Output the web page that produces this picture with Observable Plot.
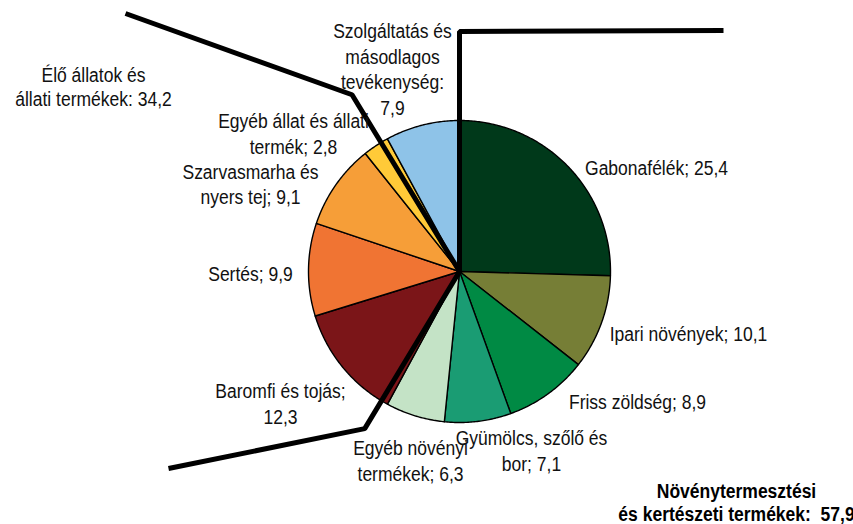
<!DOCTYPE html>
<html><head><meta charset="utf-8">
<script src="https://cdn.jsdelivr.net/npm/d3@7"></script>
<script src="https://cdn.jsdelivr.net/npm/@observablehq/plot@0.6"></script>
<style>body{margin:0;background:#fff}</style>
</head><body><div id="chart"></div>
<script>
// ---- data ----
const categories = ["Gabonafélék","Ipari növények","Friss zöldség","Gyümölcs, szőlő és bor","Egyéb növényi termékek","Baromfi és tojás","Sertés","Szarvasmarha és nyers tej","Egyéb állat és állati termék","Szolgáltatás és másodlagos tevékenység"];
const values = [25.4,10.1,8.9,7.1,6.3,12.3,9.9,9.1,2.8,7.9];
const labelText = ["Gabonafélék; 25,4","Ipari növények; 10,1","Friss zöldség; 8,9","Gyümölcs, szőlő és\nbor; 7,1","Egyéb növényi\ntermékek; 6,3","Baromfi és tojás;\n12,3","Sertés; 9,9","Szarvasmarha és\nnyers tej; 9,1","Egyéb állat és állati\ntermék; 2,8","Szolgáltatás és\nmásodlagos\ntevékenység:\n7,9"];
const groupLabels = ["Növénytermesztési\nés kertészeti termékek:  57,9","Élő állatok és\nállati termékek: 34,2"];
// boundaries between groups (index of the first slice after the boundary)
const groupBoundaries = [0, 5, 9];

// ---- style / layout ----
const colors = ["#00391a","#767e36","#008a44","#1a9c73","#c4e3c6","#7b1518","#f07433","#f69e38","#ffca38","#8ec3e8"];
const W = 853, H = 524, CX = 459, CY = 271, R = 151;
const px = x => (x - CX) / R, py = y => (CY - y) / R;
const labelPos = [[656,166],[688,332],[637,400],[531,449.5],[410,459.5],[280,402.5],[250,272],[250,183],[293,132.5],[392,68]];
const groupPos = [[736,502],[93,85.5]];
// divider legs: boundary index, angle nudge (deg), bend radius (in R), end point (px)
const dividerLayout = [
  {b:0, nudge:0, r:1.59, end:[723,30]},
  {b:5, nudge:2.6, r:1.215, end:[168,468]},
  {b:9, nudge:-2.8, r:1.37, end:[125,13]}
];
const FONT = "'Liberation Sans',Arial,sans-serif";
const SQUEEZE = 0.875; // narrow-font look

// ---- geometry via d3.pie ----
const arcs = d3.pie().sort(null).value(d => d)(values);
const slicePts = [];
arcs.forEach((a, i) => {
  const n = Math.max(2, Math.ceil((a.endAngle - a.startAngle) / 0.01));
  slicePts.push({k: i, u: 0, v: 0, c: colors[i]});
  for (let j = 0; j <= n; j++) {
    const t = a.startAngle + (a.endAngle - a.startAngle) * j / n;
    slicePts.push({k: i, u: Math.sin(t), v: Math.cos(t), c: colors[i]});
  }
  slicePts.push({k: i, u: 0, v: 0, c: colors[i]});
});
const boundaryAngle = b => b === 0 ? 0 : arcs[b].startAngle;
const divPts = [];
dividerLayout.forEach((d, i) => {
  const a = boundaryAngle(d.b) + d.nudge * Math.PI / 180;
  divPts.push({k: i, u: 0, v: 0});
  divPts.push({k: i, u: d.r * Math.sin(a), v: d.r * Math.cos(a)});
  divPts.push({k: i, u: px(d.end[0]), v: py(d.end[1])});
});
const labels = labelText.map((t, i) => ({t, u: px(labelPos[i][0]), v: py(labelPos[i][1])}));
const glabels = groupLabels.map((t, i) => ({t, u: px(groupPos[i][0]), v: py(groupPos[i][1]), bold: i === 0}));

const chart = Plot.plot({
  width: W, height: H, margin: 0,
  x: {domain: [px(0), px(W)], axis: null},
  y: {domain: [py(H), py(0)], axis: null},
  color: {type: "identity"},
  style: {background: "white", overflow: "visible"},
  marks: [
    Plot.line(slicePts, {x: "u", y: "v", z: "k", fill: "c", stroke: "black", strokeWidth: 1.4, strokeLinejoin: "round"}),
    Plot.line(divPts, {x: "u", y: "v", z: "k", stroke: "black", strokeWidth: 5, strokeLinejoin: "miter", strokeLinecap: "butt"}),
    Plot.text(labels, {x: "u", y: "v", text: "t", fontSize: 20, fontFamily: FONT, lineHeight: 1.28, fill: "#111"}),
    Plot.text(glabels.filter(d => !d.bold), {x: "u", y: "v", text: "t", fontSize: 20, fontFamily: FONT, lineHeight: 1.25, fill: "#111"}),
    Plot.text(glabels.filter(d => d.bold), {x: "u", y: "v", text: "t", fontSize: 20, fontWeight: "bold", fontFamily: FONT, lineHeight: 1.15, fill: "#000"})
  ]
});
// horizontally condense the labels to mimic the narrow font of the original
d3.select(chart).selectAll("text").each(function() {
  const tr = this.getAttribute("transform");
  if (tr) {
    this.setAttribute("transform", tr + ` scale(${SQUEEZE},1)`);
  } else {
    const x = +this.getAttribute("x") || 0, y = +this.getAttribute("y") || 0;
    this.removeAttribute("x"); this.removeAttribute("y");
    this.setAttribute("transform", `translate(${x},${y}) scale(${SQUEEZE},1)`);
  }
});
document.getElementById("chart").appendChild(chart);
</script>
</body></html>
